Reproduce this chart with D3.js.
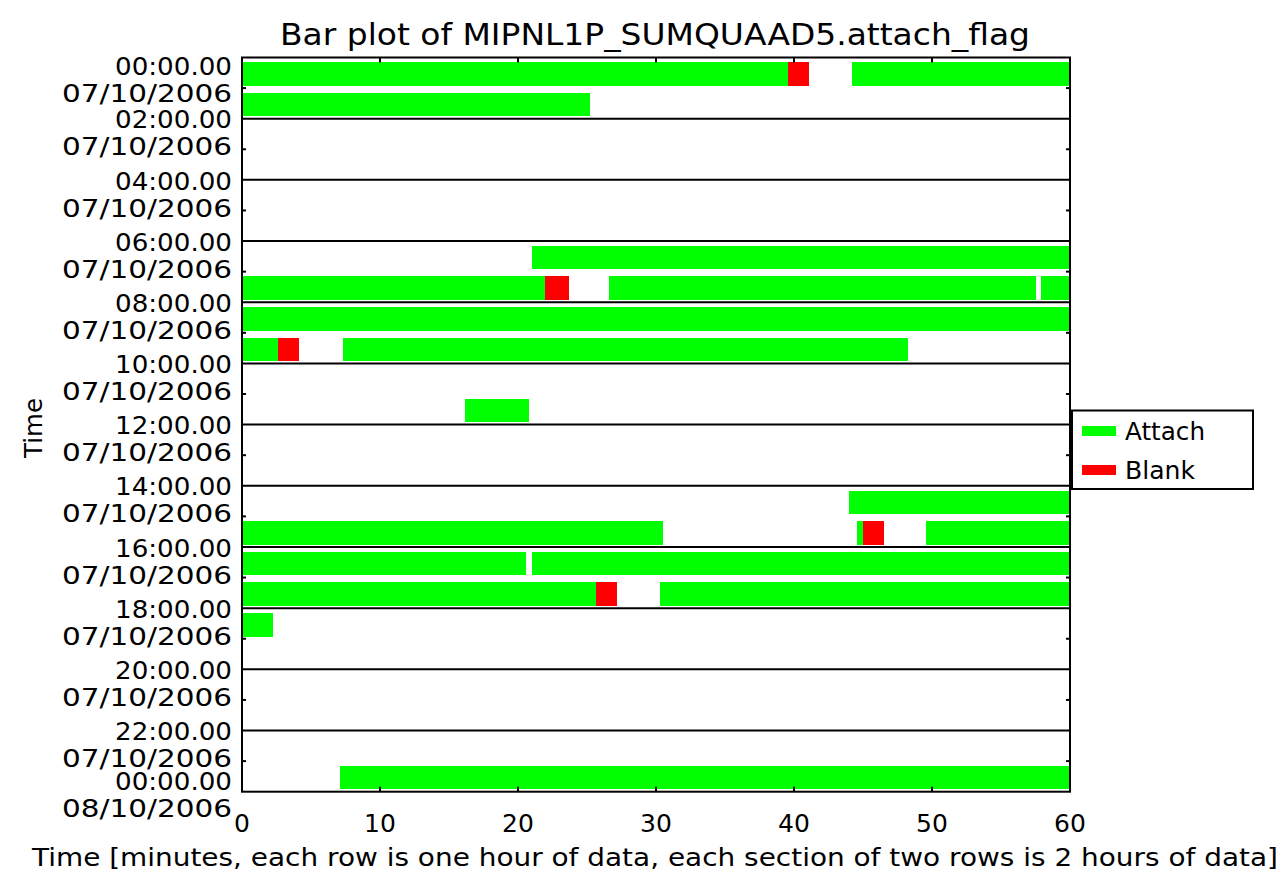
<!DOCTYPE html>
<html>
<head>
<meta charset="utf-8">
<script src="https://cdn.jsdelivr.net/npm/d3@7/dist/d3.min.js"></script>
<style>
  html, body { margin: 0; padding: 0; background: #fff; }
  svg { display: block; }
  text { font-family: "DejaVu Sans", sans-serif; fill: #000; }
</style>
</head>
<body>
<script>
// Attach / blank intervals per hourly row: [row (hour of day), start minute, end minute]
const attachSegments = [
  [0, 0, 39.59], [0, 44.2, 60],
  [1, 0, 25.22],
  [6, 21.03, 60],
  [7, 0, 21.97], [7, 26.63, 57.55], [7, 57.93, 60],
  [8, 0, 60],
  [9, 0, 2.63], [9, 7.29, 48.26],
  [11, 16.16, 20.82],
  [14, 44.0, 60],
  [15, 0, 30.49], [15, 44.59, 44.98], [15, 49.57, 60],
  [16, 0, 20.58], [16, 20.99, 60],
  [17, 0, 25.65], [17, 30.29, 60],
  [18, 0, 2.27],
  [23, 7.1, 60]
];
const blankSegments = [
  [0, 39.59, 41.11],
  [7, 21.97, 23.69],
  [9, 2.63, 4.15],
  [15, 44.98, 46.52],
  [17, 25.65, 27.2]
];

// Section labels (every 2 hours)
const sectionHours = [0, 2, 4, 6, 8, 10, 12, 14, 16, 18, 20, 22, 24];
const timeLabels = ["00:00.00", "02:00.00", "04:00.00", "06:00.00", "08:00.00", "10:00.00",
                    "12:00.00", "14:00.00", "16:00.00", "18:00.00", "20:00.00", "22:00.00", "00:00.00"];
const dateLabels = ["07/10/2006", "07/10/2006", "07/10/2006", "07/10/2006", "07/10/2006", "07/10/2006",
                    "07/10/2006", "07/10/2006", "07/10/2006", "07/10/2006", "07/10/2006", "07/10/2006", "08/10/2006"];
const xTicks = [0, 10, 20, 30, 40, 50, 60];

const legendItems = [
  { name: "Attach", color: "#00ff00" },
  { name: "Blank", color: "#ff0000" }
];

const W = 1284, H = 875;
const plotL = 242, plotR = 1070, plotT = 57.5, plotB = 791.7;

const svg = d3.select("body").append("svg").attr("width", W).attr("height", H);

const x = d3.scaleLinear().domain([0, 60]).range([plotL, plotR]);
const y = d3.scaleLinear().domain([0, 24]).range([plotT, plotB]);
const rowH = y(1) - y(0);

// bars
function drawSegments(data, color) {
  svg.append("g").selectAll("rect").data(data).join("rect")
    .attr("x", d => x(d[1]))
    .attr("width", d => x(d[2]) - x(d[1]))
    .attr("y", d => y(d[0]) + rowH * 0.157)
    .attr("height", rowH * 0.77)
    .attr("fill", color)
    .attr("shape-rendering", "crispEdges");
}
drawSegments(attachSegments, "#00ff00");
drawSegments(blankSegments, "#ff0000");

// section separators
svg.append("g").selectAll("line").data(sectionHours.slice(1, -1)).join("line")
  .attr("x1", plotL).attr("x2", plotR)
  .attr("y1", d => y(d)).attr("y2", d => y(d))
  .attr("stroke", "#000").attr("stroke-width", 2);

// frame
svg.append("rect")
  .attr("x", plotL).attr("y", plotT)
  .attr("width", plotR - plotL).attr("height", plotB - plotT)
  .attr("fill", "none").attr("stroke", "#000").attr("stroke-width", 2);

// minor ticks: top/bottom at every 10 minutes, left/right at row boundaries
const tickG = svg.append("g").attr("stroke", "#000").attr("stroke-width", 2);
tickG.selectAll(".tt").data(xTicks).join("line")
  .attr("x1", d => x(d)).attr("x2", d => x(d))
  .attr("y1", plotT).attr("y2", plotT + 5);
tickG.selectAll(".tb").data(xTicks).join("line")
  .attr("x1", d => x(d)).attr("x2", d => x(d))
  .attr("y1", plotB).attr("y2", plotB - 5);
const oddHours = d3.range(1, 24, 2);
tickG.selectAll(".tl").data(oddHours).join("line")
  .attr("x1", plotL).attr("x2", plotL + 4)
  .attr("y1", d => y(d)).attr("y2", d => y(d));
tickG.selectAll(".tr").data(oddHours).join("line")
  .attr("x1", plotR).attr("x2", plotR - 4)
  .attr("y1", d => y(d)).attr("y2", d => y(d));

// y labels: time and date under each section boundary
const labelShift = i => (i === 0 ? 8.5 : (i === sectionHours.length - 1 ? -10.7 : 1));
const yl = svg.append("g").attr("text-anchor", "end").attr("font-size", 24);
yl.selectAll(".tm").data(sectionHours).join("text")
  .attr("x", 232)
  .attr("y", (d, i) => y(d) + labelShift(i))
  .attr("dy", "0.36em")
  .attr("textLength", 117).attr("lengthAdjust", "spacingAndGlyphs")
  .text((d, i) => timeLabels[i]);
yl.selectAll(".dt").data(sectionHours).join("text")
  .attr("x", 232)
  .attr("y", (d, i) => y(d) + labelShift(i) + 27)
  .attr("dy", "0.36em")
  .attr("textLength", 170).attr("lengthAdjust", "spacingAndGlyphs")
  .text((d, i) => dateLabels[i]);

// x tick labels
svg.append("g").attr("text-anchor", "middle").attr("font-size", 25)
  .selectAll("text").data(xTicks).join("text")
  .attr("x", d => x(d))
  .attr("y", 823)
  .attr("dy", "0.36em")
  .text(d => d);

// title
svg.append("text")
  .attr("x", 655).attr("y", 34).attr("dy", "0.36em")
  .attr("text-anchor", "middle").attr("font-size", 30)
  .attr("textLength", 750).attr("lengthAdjust", "spacingAndGlyphs")
  .text("Bar plot of MIPNL1P_SUMQUAAD5.attach_flag");

// axis titles
svg.append("text")
  .attr("x", 655).attr("y", 857).attr("dy", "0.36em")
  .attr("text-anchor", "middle").attr("font-size", 25)
  .attr("textLength", 1246).attr("lengthAdjust", "spacingAndGlyphs")
  .text("Time [minutes, each row is one hour of data, each section of two rows is 2 hours of data]");

svg.append("text")
  .attr("transform", "translate(33,428) rotate(-90)")
  .attr("dy", "0.36em")
  .attr("text-anchor", "middle").attr("font-size", 25)
  .attr("textLength", 60).attr("lengthAdjust", "spacingAndGlyphs")
  .text("Time");

// legend
const lg = svg.append("g");
lg.append("rect")
  .attr("x", 1072).attr("y", 410.5).attr("width", 181).attr("height", 78.5)
  .attr("fill", "#fff").attr("stroke", "#000").attr("stroke-width", 2);
const li = lg.selectAll(".li").data(legendItems).join("g")
  .attr("transform", (d, i) => `translate(0,${431 + i * 39})`);
li.append("rect")
  .attr("x", 1082).attr("y", -5).attr("width", 34).attr("height", 10)
  .attr("fill", d => d.color);
li.append("text")
  .attr("x", 1125).attr("y", 0).attr("dy", "0.36em")
  .attr("font-size", 24)
  .attr("textLength", (d, i) => (i === 0 ? 80 : 70)).attr("lengthAdjust", "spacingAndGlyphs")
  .text(d => d.name);
</script>
</body>
</html>
